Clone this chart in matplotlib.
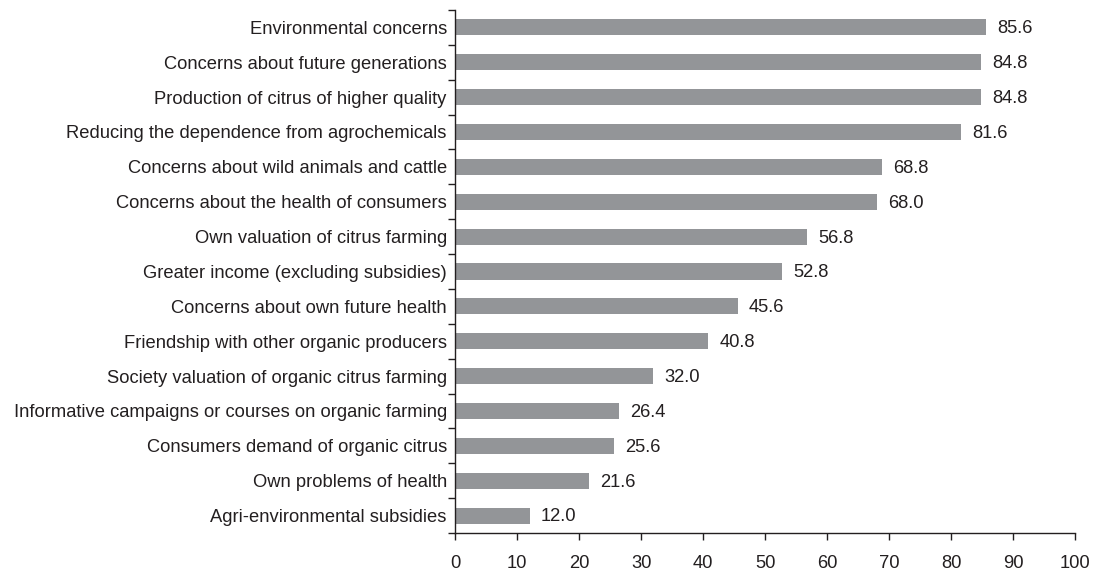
import matplotlib
matplotlib.use("Agg")
import matplotlib.pyplot as plt
from matplotlib import font_manager

# data, top to bottom as in the reference
categories = [
    "Environmental concerns",
    "Concerns about future generations",
    "Production of citrus of higher quality",
    "Reducing the dependence from agrochemicals",
    "Concerns about wild animals and cattle",
    "Concerns about the health of consumers",
    "Own valuation of citrus farming",
    "Greater income (excluding subsidies)",
    "Concerns about own future health",
    "Friendship with other organic producers",
    "Society valuation of organic citrus farming",
    "Informative campaigns or courses on organic farming",
    "Consumers demand of organic citrus",
    "Own problems of health",
    "Agri-environmental subsidies",
]
values = [85.6, 84.8, 84.8, 81.6, 68.8, 68.0, 56.8, 52.8, 45.6, 40.8, 32.0, 26.4, 25.6, 21.6, 12.0]
x_ticks = [0, 10, 20, 30, 40, 50, 60, 70, 80, 90, 100]

names = {f.name for f in font_manager.fontManager.ttflist}
fam = "Liberation Sans Narrow" if "Liberation Sans Narrow" in names else "Liberation Sans"
plt.rcParams["font.family"] = [fam, "DejaVu Sans"]
fs = 13.2 if fam == "Liberation Sans" else 15

fig = plt.figure(figsize=(10.94, 5.75), dpi=100)
ax = fig.add_axes([0.416, 0.073, 0.5667, 0.9097])

n = len(categories)
ypos = list(range(n))[::-1]
ax.barh(ypos, values, height=0.46, color="#939598")

for y, v in zip(ypos, values):
    ax.annotate(f"{v:.1f}", (v, y), xytext=(8, -1), textcoords="offset points",
                va="center", ha="left", fontsize=fs, color="#231f20")

ax.set_xlim(0, 100)
ax.set_ylim(-0.5, n - 0.5)
ax.set_xticks(x_ticks)
ax.set_yticks(ypos)
ax.set_yticklabels(categories, fontsize=fs, color="#231f20")
ax.set_yticks([i - 0.5 for i in range(n + 1)], minor=True)
ax.tick_params(axis="y", which="major", length=0, pad=6)
ax.tick_params(axis="y", which="minor", length=5, width=1, color="#231f20")
ax.tick_params(axis="x", length=5, width=1, color="#231f20", labelsize=fs,
               labelcolor="#231f20", pad=11)

for s in ["top", "right"]:
    ax.spines[s].set_visible(False)
for s in ["left", "bottom"]:
    ax.spines[s].set_color("#231f20")
    ax.spines[s].set_linewidth(1)

fig.savefig("out.png", dpi=100)
